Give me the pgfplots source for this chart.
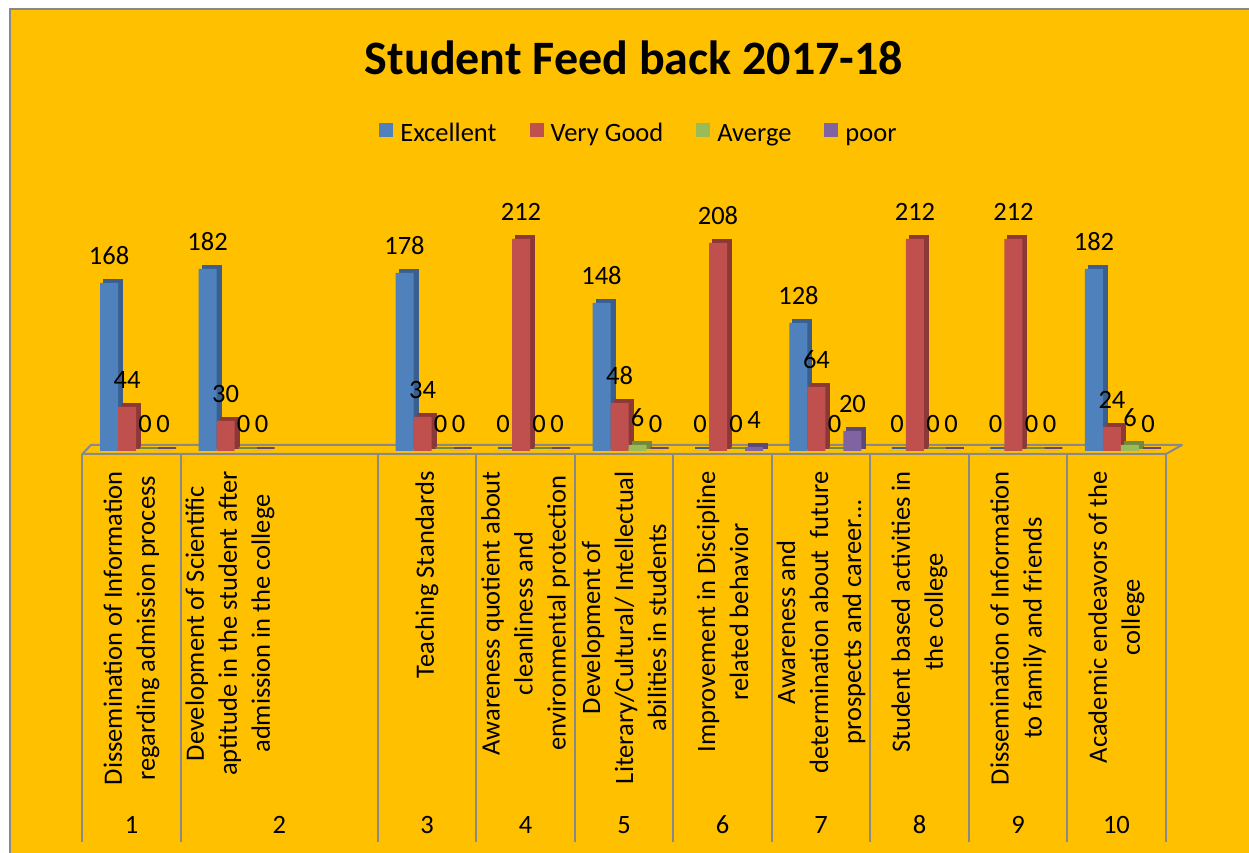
\documentclass[border=0pt]{standalone}
\usepackage{fontspec}
\setmainfont{Carlito}
\usepackage{pgfplots}
\usepackage{pgfplotstable}
\pgfplotsset{compat=1.18}

\definecolor{bg}{HTML}{FFC000}
\definecolor{frame}{HTML}{898989}
\definecolor{exc}{HTML}{4F81BD}
\definecolor{excD}{HTML}{3A5F8E}
\definecolor{vg}{HTML}{C0504D}
\definecolor{vgD}{HTML}{8C3836}
\definecolor{avg}{HTML}{9BBB59}
\definecolor{avgD}{HTML}{71893F}
\definecolor{poor}{HTML}{8064A2}
\definecolor{poorD}{HTML}{5C4776}

\newcommand\lbl{\fontsize{26.5}{33}\selectfont}

% slot 3 is left empty (category 2 spans two slots)
\pgfplotstableread{
x  exc vg  avg poor
1  168 44  0   0
2  182 30  0   0
4  178 34  0   0
5  0   212 0   0
6  148 48  6   0
7  0   208 0   4
8  128 64  0   20
9  0   212 0   0
10 0   212 0   0
11 182 24  6   0
}\feedback

\begin{document}
\begin{tikzpicture}
\useasboundingbox (0,0) rectangle (1249pt,853pt);
\fill[white] (0,0) rectangle (1249pt,853pt);
\begin{scope}[x=1pt,y=-1pt,yshift=853pt]
  \fill[bg] (10,9) rectangle (1249,853);
  \draw[frame, line width=2pt] (10,853) -- (10,9) -- (1249,9);
  \node[anchor=base, font=\fontsize{48}{52}\selectfont\bfseries] at (634,75) {Student Feed back 2017-18};
  % floor
  \draw[frame, line width=2pt, line join=round] (82.3,454) -- (1166,454) -- (1182,445) -- (91,445) -- cycle;
\end{scope}

\begin{axis}[
  at={(82.3pt,402pt)}, anchor=south west, scale only axis,
  width=1083.4pt, height=440pt,
  xmin=0.5, xmax=11.5, ymin=0, ymax=440,
  hide axis, clip=false,
  ybar, bar width=18pt,
  /pgf/number format/assume math mode=true,
  legend columns=4,
  legend style={at={(0.5129,0.718)}, anchor=center, draw=none, fill=none,
    inner sep=0pt, font=\lbl,
    nodes={inner sep=0pt, text height=18pt, text depth=6pt},
    /tikz/every odd column/.append style={column sep=7pt},
    /tikz/every even column/.append style={column sep=33pt}},
  legend image code/.code={\fill[#1] (0pt,-1pt) rectangle (14pt,13pt);},
  front/.style={draw=none, nodes near coords,
    every node near coord/.append style={anchor=south, inner sep=0pt,
      yshift=18pt, font=\lbl, text=black}},
  back/.style={forget plot, yshift=3pt, line width=2pt},
]
\addplot[back, fill=excD, draw=excD, bar shift=-18.5pt] table[x=x,y=exc]{\feedback};
\addplot[front, fill=exc, bar shift=-22.5pt] table[x=x,y=exc]{\feedback};
\addlegendentry{Excellent}
\addplot[back, fill=vgD, draw=vgD, bar shift=-0.5pt] table[x=x,y=vg]{\feedback};
\addplot[front, fill=vg, bar shift=-4.5pt] table[x=x,y=vg]{\feedback};
\addlegendentry{Very Good}
\addplot[back, fill=avgD, draw=avgD, bar shift=17.5pt] table[x=x,y=avg]{\feedback};
\addplot[front, fill=avg, bar shift=13.5pt] table[x=x,y=avg]{\feedback};
\addlegendentry{Averge}
\addplot[back, fill=poorD, draw=poorD, bar shift=35.5pt] table[x=x,y=poor]{\feedback};
\addplot[front, fill=poor, bar shift=31.5pt] table[x=x,y=poor]{\feedback};
\addlegendentry{poor}

% category dividers
\pgfplotsinvokeforeach{0.5,1.5,3.5,4.5,5.5,6.5,7.5,8.5,9.5,10.5,11.5}{
  \draw[frame, line width=2pt] (axis cs:#1,-3) -- (axis cs:#1,-391);
}
% rotated category texts
\begin{scope}[every node/.style={rotate=90, anchor=east, align=center, font=\lbl, inner sep=0pt}]
\node at (axis cs:1,-20) {Dissemination of Information\\regarding admission process};
\node at (axis cs:2,-20) {Development of Scientific\\aptitude in the student after\\admission in the college};
\node at (axis cs:4,-20) {Teaching Standards};
\node at (axis cs:5,-20) {Awareness quotient about\\cleanliness and\\environmental protection};
\node at (axis cs:6,-20) {Development of\\Literary/Cultural/ Intellectual\\abilities in students};
\node at (axis cs:7,-20) {Improvement in Discipline\\related behavior};
\node at (axis cs:8,-20) {Awareness and\\determination about\ \ future\\prospects and career…};
\node at (axis cs:9,-20) {Student based activities in\\the college};
\node at (axis cs:10,-20) {Dissemination of Information\\to family and friends};
\node at (axis cs:11,-20) {Academic endeavors of the\\college};
\end{scope}
% outer category numbers
\begin{scope}[every node/.style={anchor=base, font=\lbl, inner sep=0pt}]
\node at (axis cs:1,-382) {1};
\node at (axis cs:2.5,-382) {2};
\node at (axis cs:4,-382) {3};
\node at (axis cs:5,-382) {4};
\node at (axis cs:6,-382) {5};
\node at (axis cs:7,-382) {6};
\node at (axis cs:8,-382) {7};
\node at (axis cs:9,-382) {8};
\node at (axis cs:10,-382) {9};
\node at (axis cs:11,-382) {10};
\end{scope}
\end{axis}
\end{tikzpicture}
\end{document}
